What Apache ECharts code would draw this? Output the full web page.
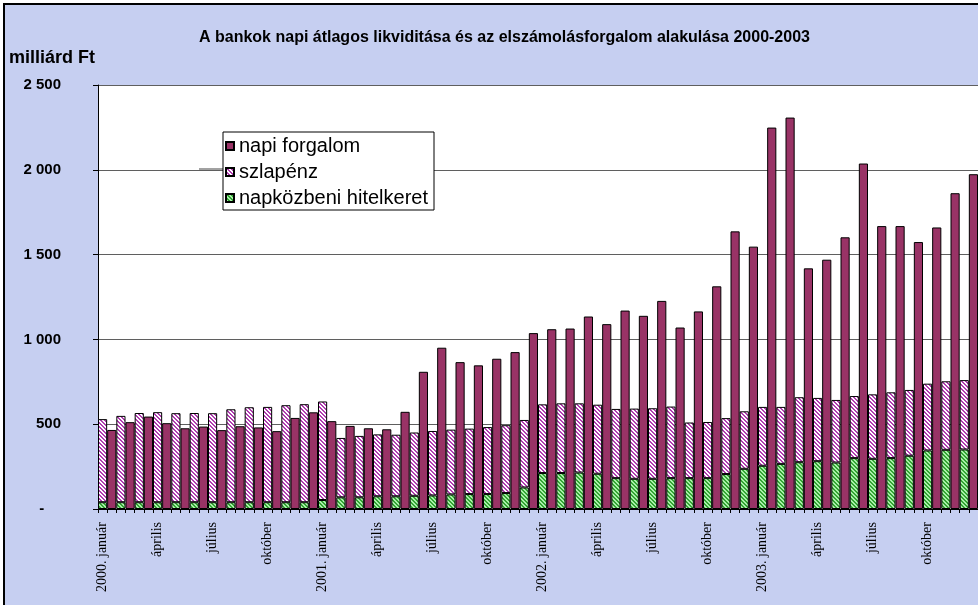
<!DOCTYPE html>
<html>
<head>
<meta charset="utf-8">
<title>A bankok napi átlagos likviditása</title>
<script src="https://cdn.jsdelivr.net/npm/echarts@6/dist/echarts.min.js"></script>
<style>
  html, body { margin: 0; padding: 0; background: #fff; overflow: hidden; }
  #frame {
    position: absolute; left: 3px; top: 3px; width: 1000px; height: 700px;
    border: 2px solid #000; background: #c6cff1;
  }
  #chart { position: absolute; left: 0; top: 0; width: 978px; height: 605px; }
</style>
</head>
<body>
<div id="frame"></div>
<div id="chart"></div>
<script>
// havi adatok, 2000. január - 2003. december (milliárd Ft)
const years = [2000, 2001, 2002, 2003];
const monthNames = ["január", "február", "március", "április", "május", "június",
  "július", "augusztus", "szeptember", "október", "november", "december"];

const napiForgalom = [
  466, 512, 545, 506, 476, 486, 465, 488, 481, 459, 537, 570,
  518, 490, 476, 470, 573, 809, 951, 866, 847, 886, 925, 1037,
  1060, 1064, 1135, 1090, 1170, 1139, 1227, 1070, 1165, 1313, 1637, 1547,
  2249, 2308, 1419, 1470, 1602, 2037, 1668, 1668, 1574, 1660, 1862, 1974
];
const szlapenz = [
  490, 509, 526, 531, 525, 526, 525, 548, 560, 562, 572, 578,
  581, 350, 362, 365, 363, 373, 380, 382, 386, 395, 400, 398,
  405, 411, 408, 407, 408, 414, 416, 422, 328, 331, 330, 339,
  347, 336, 383, 373, 369, 366, 380, 388, 388, 394, 404, 409
];
const hitelkeret = [
  40, 40, 40, 40, 40, 40, 40, 40, 40, 40, 40, 40,
  53, 69, 69, 75, 75, 78, 80, 86, 88, 88, 94, 127,
  212, 212, 215, 208, 182, 178, 178, 182, 182, 182, 206, 237,
  255, 266, 276, 282, 274, 300, 296, 300, 314, 345, 349, 351
];
const yTicks = [0, 500, 1000, 1500, 2000, 2500];

// minden hónap két oszlop: bal = szlapénz + hitelkeret, jobb = napi forgalom
const cats = [], dHitel = [], dSzla = [], dNapi = [];
napiForgalom.forEach((v, i) => {
  const y = years[Math.floor(i / 12)];
  const label = i % 12 === 0 ? y + ". " + monthNames[0] : monthNames[i % 12];
  cats.push(label, label);
  dHitel.push(hitelkeret[i], null);
  dSzla.push(szlapenz[i], null);
  dNapi.push(null, v);
});

function hatch(c1, c2) {
  const cv = document.createElement("canvas");
  cv.width = 4; cv.height = 4;
  const ctx = cv.getContext("2d");
  ctx.fillStyle = c2;
  ctx.fillRect(0, 0, 4, 4);
  ctx.fillStyle = c1;
  for (let x = 0; x < 4; x++) {
    for (let y = 0; y < 4; y++) {
      if ((x - y + 8) % 4 < 2) ctx.fillRect(x, y, 1, 1);
    }
  }
  return { image: cv, repeat: "repeat" };
}

const chart = echarts.init(document.getElementById("chart"));
const border = { borderColor: "#000", borderWidth: 1 };

chart.setOption({
  backgroundColor: "transparent",
  animation: false,
  title: {
    text: "A bankok napi átlagos likviditása és az elszámolásforgalom alakulása 2000-2003",
    left: 199,
    top: 30,
    padding: 0,
    textStyle: { fontFamily: "Liberation Sans", fontSize: 16, fontWeight: "bold", color: "#000" }
  },
  legend: {
    orient: "vertical",
    left: 223,
    top: 132,
    data: ["napi forgalom", "szlapénz", "napközbeni hitelkeret"],
    selectedMode: false,
    icon: "rect",
    itemWidth: 8,
    itemHeight: 8,
    itemGap: 6,
    padding: [4, 6, 2, 2],
    backgroundColor: "#fff",
    borderColor: "#000",
    borderWidth: 1,
    textStyle: { fontFamily: "Liberation Sans", fontSize: 20, color: "#000" }
  },
  graphic: [
    { type: "line", shape: { x1: 199, y1: 169, x2: 223, y2: 169 }, style: { stroke: "#444", lineWidth: 1 } }
  ],
  grid: {
    left: 98, top: 85, right: -6, bottom: 96,
    show: true, backgroundColor: "#fff", borderWidth: 0
  },
  xAxis: {
    type: "category",
    data: cats,
    axisLine: { lineStyle: { color: "#000", width: 1 } },
    axisTick: { show: true, interval: 0, length: 4, lineStyle: { color: "#000" } },
    axisLabel: {
      interval: 5, rotate: 90, margin: 13,
      fontFamily: "Liberation Serif", fontSize: 14, color: "#000"
    }
  },
  yAxis: {
    type: "value",
    min: yTicks[0],
    max: yTicks[yTicks.length - 1],
    interval: 500,
    name: "milliárd Ft",
    nameLocation: "end",
    nameGap: 18,
    nameTextStyle: {
      fontFamily: "Liberation Sans", fontSize: 18, fontWeight: "bold", color: "#000",
      align: "right", padding: [0, 3, 0, 0]
    },
    axisLine: { show: true, lineStyle: { color: "#000", width: 1 } },
    axisTick: { show: true, length: 5, lineStyle: { color: "#000" } },
    splitLine: { lineStyle: { color: "#5f5f5f", width: 1 } },
    axisLabel: {
      margin: 37,
      fontFamily: "Liberation Sans", fontSize: 15, fontWeight: "bold", color: "#000",
      formatter: v => v === 0 ? "-    " : String(v).replace(/\B(?=(\d{3})+(?!\d))/g, " ")
    }
  },
  series: [
    {
      name: "napközbeni hitelkeret", type: "bar", stack: "a",
      barCategoryGap: "0%",
      itemStyle: Object.assign({ color: hatch("#33a333", "#a8f0a8") }, border),
      data: dHitel
    },
    {
      name: "szlapénz", type: "bar", stack: "a",
      barCategoryGap: "0%",
      itemStyle: Object.assign({ color: hatch("#b03cb0", "#ffffff") }, border),
      data: dSzla
    },
    {
      name: "napi forgalom", type: "bar", stack: "a",
      barCategoryGap: "0%",
      itemStyle: Object.assign({ color: "#993366" }, border),
      data: dNapi
    }
  ]
});
</script>
</body>
</html>
